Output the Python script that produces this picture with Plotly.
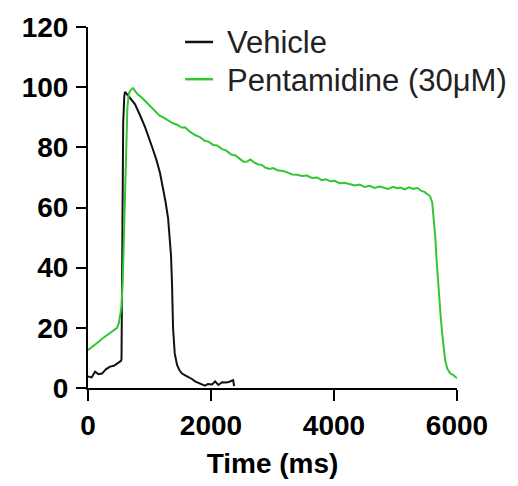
import plotly.graph_objects as go

# Vehicle trace (time in ms, value)
veh_t = [0, 60, 114, 170, 228, 290, 358, 420, 472, 537, 545, 553, 560, 572, 590, 602,
         680, 765, 850, 928, 1041, 1110, 1172, 1220, 1260, 1302, 1330, 1350, 1367, 1383,
         1410, 1448, 1490, 1530, 1580, 1627, 1690, 1741, 1800, 1855, 1900, 1950, 2018,
         2067, 2120, 2180, 2230, 2290, 2343, 2360, 2376]
veh_v = [3.8, 3.5, 5.4, 4.6, 4.8, 6.2, 7.1, 7.4, 8.1, 9.0, 9.5, 30, 60, 88, 97, 98.4,
         96.5, 94.3, 90.5, 86.7, 80.2, 76.0, 71.4, 66.6, 62.0, 56.5, 50.5, 44, 34, 20,
         11.5, 7.7, 5.8, 4.8, 4.2, 3.8, 3.0, 2.2, 1.6, 1.2, 0.8, 1.3, 1.2,
         2.2, 1.0, 1.9, 1.8, 2.0, 2.5, 2.6, 0.6]

# Pentamidine (30 uM) trace
pen_t = [0, 60, 120, 163, 230, 280, 325, 380, 430, 472, 500, 521, 545, 565, 590, 615, 640,
         665, 700, 732, 760, 800, 879, 950, 1020, 1090, 1160, 1230, 1302, 1380, 1450, 1520,
         1578, 1650, 1741, 1820, 1900, 1960, 2034, 2100, 2180, 2250, 2330, 2400, 2480, 2530,
         2588, 2640, 2700, 2760, 2830, 2880, 2950, 3010, 3080, 3174, 3250, 3320, 3400, 3480,
         3560, 3640, 3727, 3800, 3870, 3940, 4010, 4090, 4170, 4264, 4340, 4420, 4500, 4580,
         4660, 4740, 4800, 4880, 4960, 5030, 5077, 5150, 5220, 5288, 5360, 5420, 5470, 5516,
         5560, 5597, 5620, 5646, 5670, 5695, 5730, 5760, 5785, 5808, 5840, 5870, 5890, 5940,
         5970, 6000]
pen_v = [12.6, 13.5, 14.6, 15.2, 16.4, 17.2, 17.8, 18.8, 19.5, 20.0, 21.5, 23.9, 27, 36, 55, 78, 93,
         98, 99.2, 99.7, 98.8, 97.8, 96.5, 95.0, 93.8, 92.2, 90.6, 89.9, 89.0, 88.0, 87.5, 86.6,
         86.7, 85.3, 84.1, 83.4, 82.2, 81.9, 80.8, 80.6, 79.4, 78.9, 77.6, 77.3, 76.0, 75.2,
         75.3, 76.0, 75.0, 74.4, 74.1, 73.3, 72.8, 73.1, 72.4, 72.1, 71.6, 71.0, 70.9, 70.5,
         70.6, 69.8, 70.0, 69.1, 69.4, 68.7, 68.9, 68.1, 68.2, 67.7, 67.3, 67.6, 66.8, 67.2,
         66.5, 67.0, 66.6, 66.2, 66.9, 66.4, 66.6, 66.0, 66.7, 66.2, 66.5, 65.5, 65.2, 64.6,
         63.8, 61.7, 57, 50.4, 42, 34.1, 25, 17.9, 13, 9.3, 6.5, 5.5, 4.8, 4.3,
         3.8, 3.2]

series_names = ["Vehicle", "Pentamidine (30\u03bcM)"]
series_colors = ["#111111", "#33c633"]

x_ticks = [0, 2000, 4000, 6000]
y_ticks = [0, 20, 40, 60, 80, 100, 120]

fig = go.Figure()
fig.add_trace(go.Scatter(x=veh_t, y=veh_v, mode="lines", name=series_names[0],
                         line=dict(color=series_colors[0], width=2)))
fig.add_trace(go.Scatter(x=pen_t, y=pen_v, mode="lines", name=series_names[1],
                         line=dict(color=series_colors[1], width=2)))

# manual legend (line sample + label)
leg_y = [0.9585, 0.8555]
for name, color, ly in zip(series_names, series_colors, leg_y):
    fig.add_shape(type="line", xref="paper", yref="paper", x0=0.263, x1=0.339,
                  y0=ly, y1=ly, line=dict(color=color, width=2.5))
    fig.add_annotation(xref="paper", yref="paper", x=0.372, y=ly, xanchor="left",
                       yanchor="middle", text=name, showarrow=False, yshift=-1,
                       font=dict(family="Liberation Sans, Arial, sans-serif", size=31,
                                 color="#222222"))

tickfont = dict(family="Liberation Sans, Arial, sans-serif", size=28, color="black", weight="bold")
fig.update_layout(
    width=518, height=486,
    margin=dict(l=88, r=61, t=23, b=94),
    plot_bgcolor="white", paper_bgcolor="white",
    showlegend=False,
    xaxis=dict(range=[0, 6000], tickvals=x_ticks, ticks="outside", ticklen=11, tickwidth=2,
               tickcolor="black", showline=True, linecolor="black", linewidth=2,
               showgrid=False, zeroline=False, tickfont=tickfont,
               title=dict(text="Time (ms)", font=tickfont, standoff=14)),
    yaxis=dict(range=[0, 120], tickvals=y_ticks, ticks="outside", ticklen=10, tickwidth=2,
               tickcolor="black", showline=True, linecolor="black", linewidth=2,
               showgrid=False, zeroline=False, tickfont=tickfont, ticklabelstandoff=2),
)
fig.write_html("out.html")
